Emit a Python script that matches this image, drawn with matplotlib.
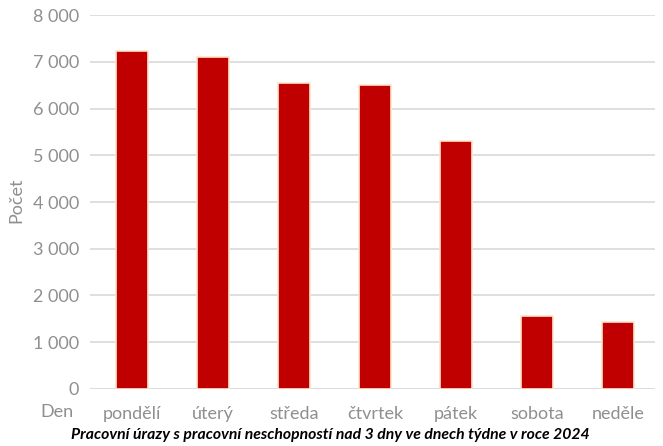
import matplotlib
matplotlib.use('Agg')
import matplotlib.pyplot as plt

days = ['pondělí', 'úterý', 'středa', 'čtvrtek', 'pátek', 'sobota', 'neděle']
counts = [7230, 7100, 6545, 6500, 5305, 1560, 1433]
yticks = [0, 1000, 2000, 3000, 4000, 5000, 6000, 7000, 8000]

plt.rcParams['font.family'] = ['Lato', 'DejaVu Sans']
grey = '#8f8f8f'

fig = plt.figure(figsize=(6.63, 4.46), dpi=100)
ax = fig.add_axes([0.136, 0.128, 0.852, 0.838])

ax.bar(range(len(days)), counts, width=0.4, color='#c00000',
       edgecolor='#fde4cc', linewidth=1.2, zorder=3)

ax.set_xlim(-0.52, 6.46)
ax.set_ylim(0, 8000)
ax.set_yticks(yticks)
ax.set_yticklabels([f'{v:,}'.replace(',', ' ') for v in yticks])
ax.set_xticks(range(len(days)))
ax.set_xticklabels(days)
ax.tick_params(axis='both', length=0, colors=grey, labelsize=13, pad=8)
ax.tick_params(axis='x', pad=12)
ax.yaxis.grid(True, color='#dcdcdc', linewidth=1.3, zorder=0)
for s in ax.spines.values():
    s.set_visible(False)
ax.axhline(0, color='#dcdcdc', linewidth=1.3, zorder=2)

fig.text(0.012, 0.55, 'Počet', rotation=90, color=grey, fontsize=13,
         ha='left', va='center')
fig.text(0.086, 0.076, 'Den', color=grey, fontsize=13,
         ha='center', va='center')
fig.text(0.498, 0.024, 'Pracovní úrazy s pracovní neschopností nad 3 dny ve dnech týdne v roce 2024',
         color='black', fontsize=11.3, fontweight='bold', fontstyle='italic',
         ha='center', va='center')

fig.savefig('out.png', dpi=100)
